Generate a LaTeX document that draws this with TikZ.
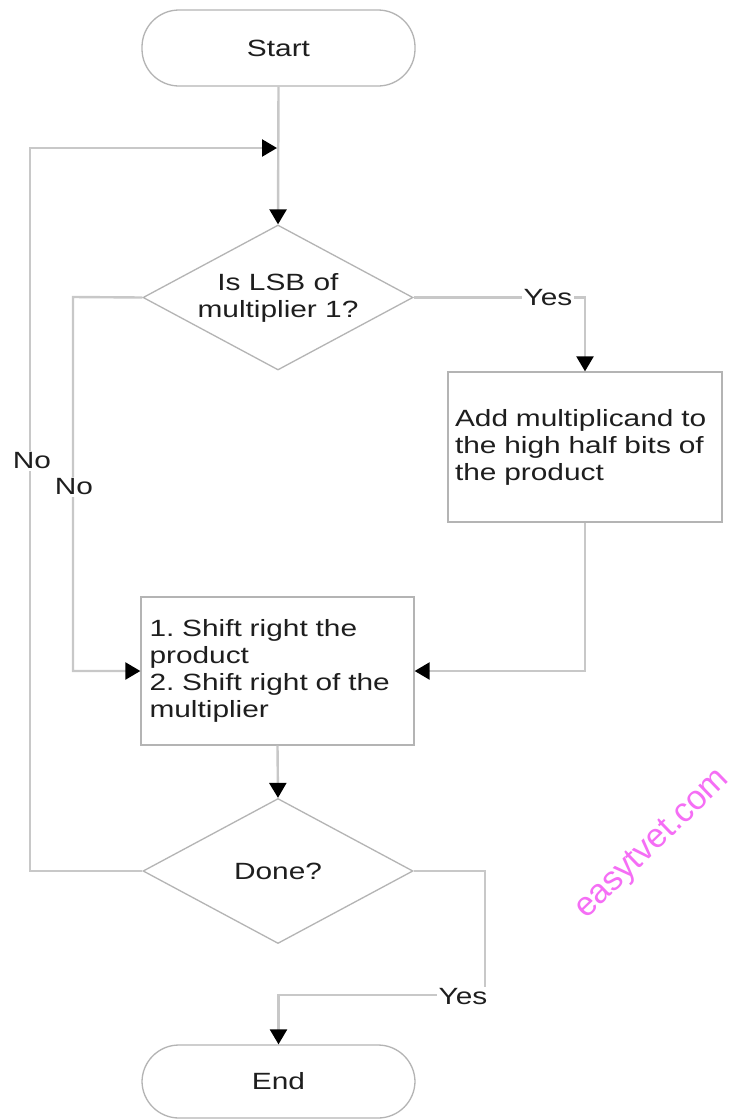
\documentclass[tikz,border=0pt]{standalone}
\usepackage{fontspec}
\setmainfont{Liberation Sans}[FakeStretch=1.27]
\newfontfamily\wmfont{Liberation Sans}
\usetikzlibrary{shapes.geometric,arrows.meta}
\definecolor{linec}{RGB}{200,200,200}
\definecolor{shapec}{RGB}{180,180,180}
\definecolor{txtc}{RGB}{30,30,30}
\definecolor{wmc}{RGB}{245,110,245}
\frenchspacing
\begin{document}
\begin{tikzpicture}[x=1pt,y=-1pt,
  every node/.style={font=\fontsize{23.5}{27}\selectfont, text=txtc},
  term/.style={draw=shapec, line width=1.3pt, rounded corners=37pt, minimum width=273pt, minimum height=76pt, inner sep=0pt},
  proc/.style={draw=shapec, line width=1.3pt, minimum width=274pt, minimum height=150pt, inner sep=0pt, text width=260pt, align=left},
  dec/.style={draw=shapec, line width=1.3pt, diamond, minimum width=270pt, minimum height=145pt, aspect=1.86, inner sep=0pt, align=center},
  conn/.style={draw=linec, line width=2.4pt},
  arr/.style={conn, -{Triangle[length=15pt,width=17pt,color=black]}},
  lbl/.style={fill=white, inner sep=1.5pt}]
\useasboundingbox (0,0) rectangle (736,1120);
\fill[white] (0,0) rectangle (736,1120);

\node[term] (start) at (278.5,48) {Start};
\node[dec] (d1) at (278,297.5) {Is LSB of\\multiplier 1?};
\node[proc] (add) at (585,447) {Add multiplicand to\\the high half bits of\\the product};
\node[proc, minimum width=273pt, minimum height=148pt, text width=256pt] (shift) at (277.5,671) {1. Shift right the\\product\\2. Shift right of the\\multiplier};
\node[dec] (d2) at (278,871) {Done?};
\node[term, minimum height=73pt] (end) at (278.5,1081.5) {End};

\coordinate (loopc) at (30,148);
\coordinate (j) at (277,148);
\coordinate (n1) at (73,297);
\coordinate (y2a) at (485,995);

\draw[arr] (start.south) -- (d1.north);
\draw[arr] (d2.west) -| (loopc) -- (j);
\draw[arr] (d1.east) -| (add.north);
\draw[arr] (d1.west) -- (n1) |- (shift.west);
\draw[arr] (add.south) |- (shift.east);
\draw[arr] (shift.south) -- (d2.north);
\draw[arr] (d2.east) -| (y2a) -| (end.north);

\node[lbl] (yes1) at (548,298) {Yes};
\node[lbl] (no1) at (74,487) {No};
\node[lbl] (no2) at (32,461) {No};
\node[lbl] (yes2) at (463,997) {Yes};

\node[rotate=44, text=wmc, font=\wmfont\fontsize{34}{34}\selectfont] (wm) at (653,845) {easytvet.com};
\end{tikzpicture}
\end{document}
